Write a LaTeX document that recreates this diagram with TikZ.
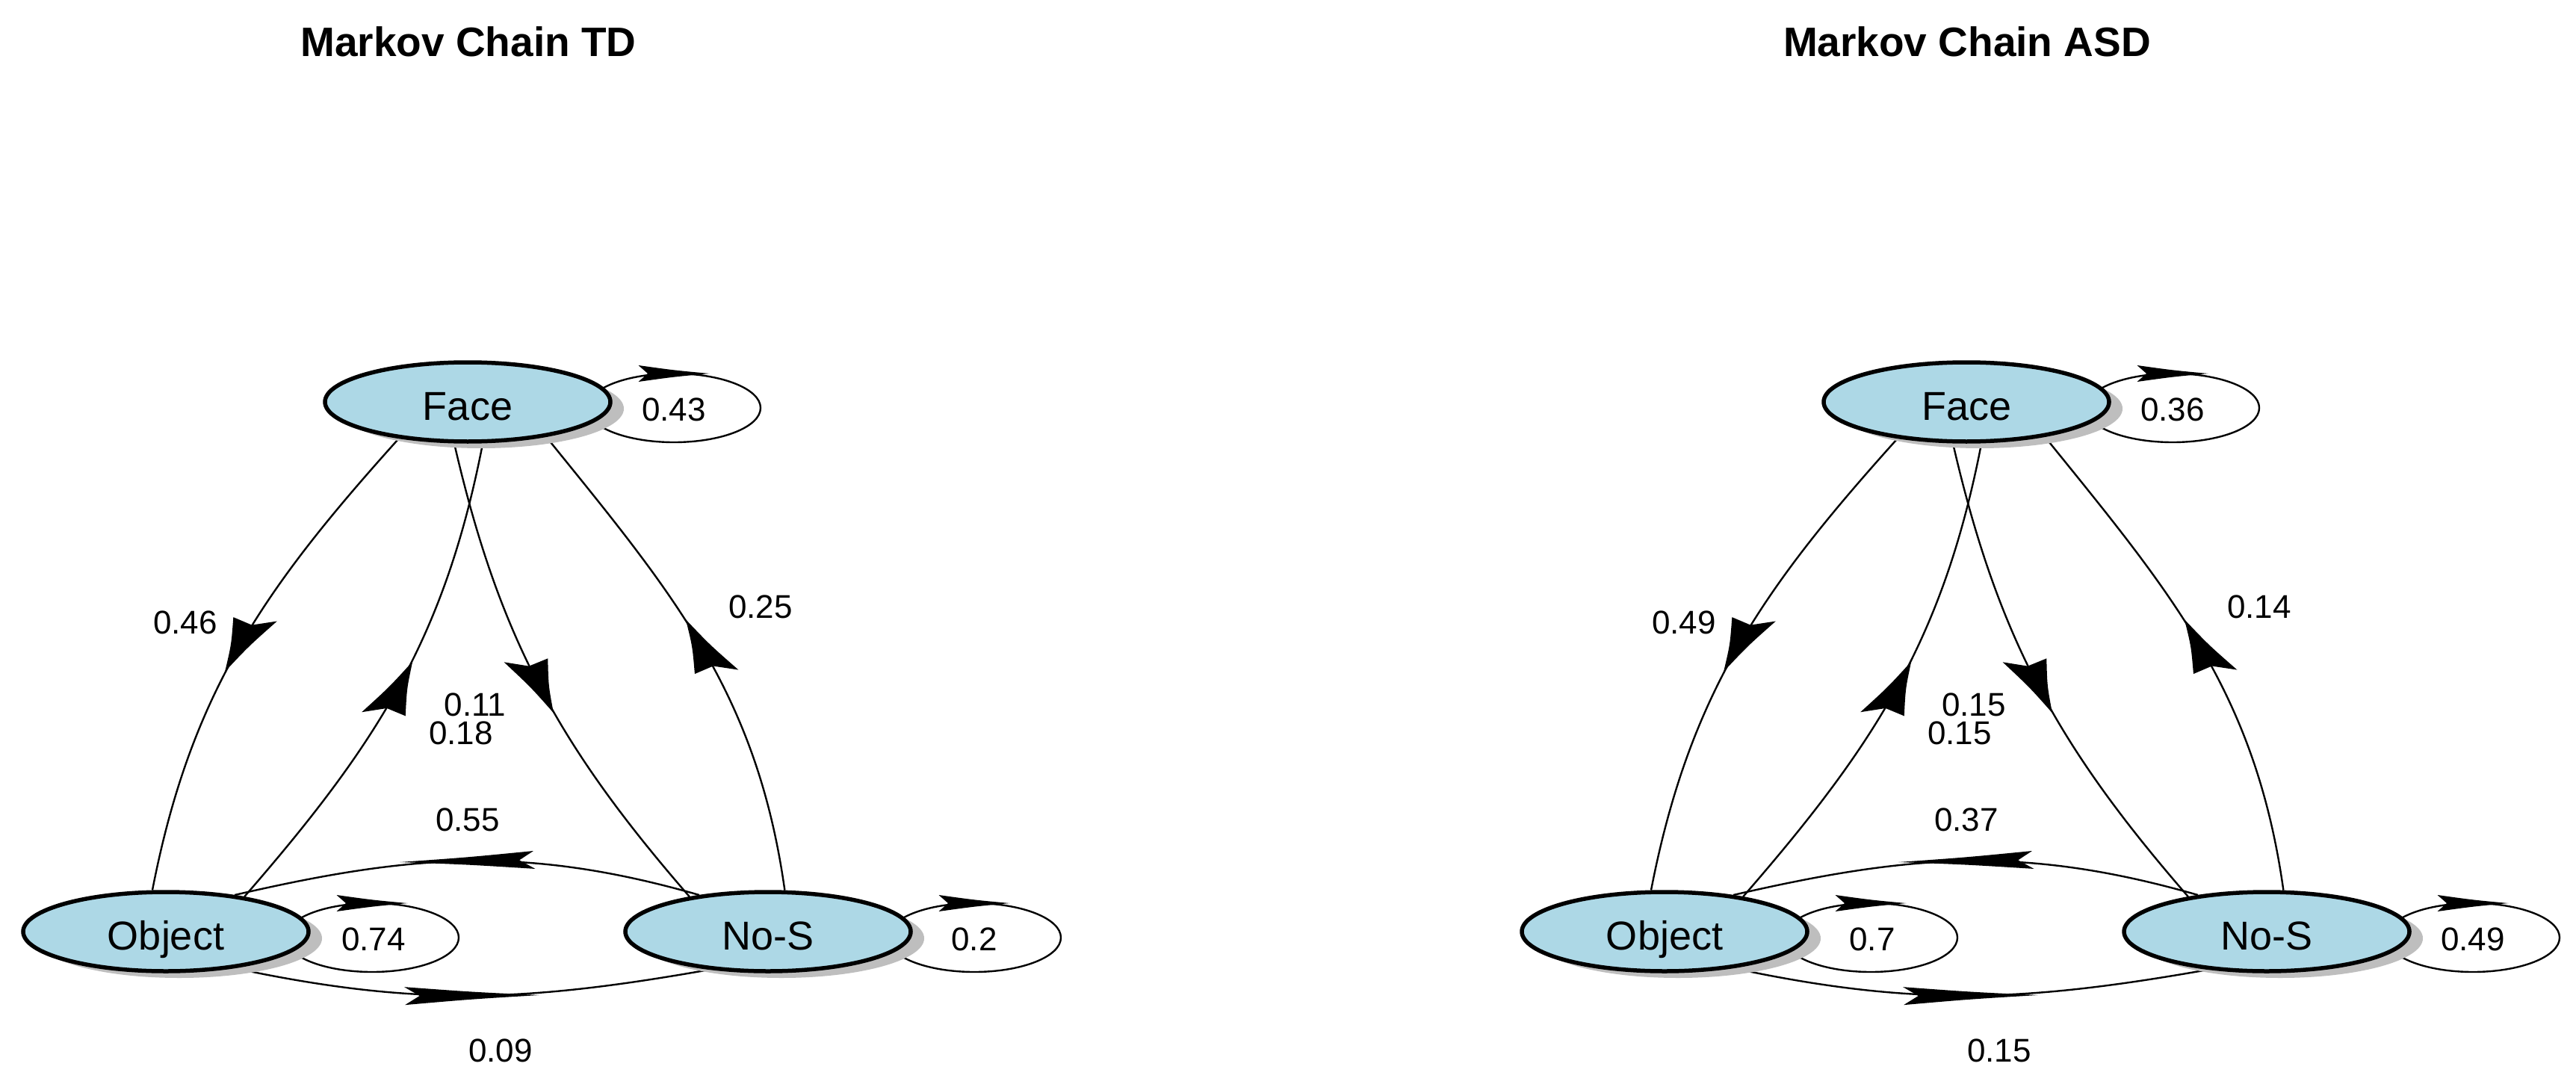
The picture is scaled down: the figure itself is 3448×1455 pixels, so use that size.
\documentclass[tikz,border=0pt]{standalone}
\usepackage{fontspec}
\setmainfont{Liberation Sans}
\usetikzlibrary{decorations.markings,shadows,shapes.geometric}
\definecolor{nodeblue}{RGB}{173,216,230}
\definecolor{shadowgray}{RGB}{190,190,190}
\pgfdeclarelayer{background}
\pgfsetlayers{background,main}
\newcommand{\kx}{2.5}
% arrow head drawn in "user space" (x stretched by \kx), centred on the mark
\newcommand{\anisohead}[3]{%
  \pgfgettransformentries{\AHa}{\AHb}{\AHc}{\AHd}{\AHe}{\AHf}%
  \pgfmathsetmacro{\AHang}{atan2(\AHb,\AHa/\kx)}%
  \pgftransformresetnontranslations
  \pgftransformxscale{\kx}%
  \pgftransformrotate{\AHang}%
  \fill (#1/2,0) .. controls (0,#2*0.2) .. (-#1/2,#2/2)
     -- (-#1/2+#3,0) -- (-#1/2,-#2/2)
     .. controls (0,-#2*0.2) .. (#1/2,0) -- cycle;
}
\tikzset{
  state/.style={ellipse, draw, line width=5.5pt, fill=nodeblue,
    minimum width=382pt, minimum height=106pt, inner sep=0pt,
    font=\fontsize{54}{60}\selectfont, text height=48pt, text depth=0pt,
    drop shadow={shadow xshift=18pt, shadow yshift=-9pt, fill=shadowgray, opacity=1, draw=none}},
  trans/.style={line width=2.4pt, postaction={decorate, decoration={markings,
    mark=at position 0.5 with {\anisohead{72}{24}{8}}}}},
  selfloop/.style={line width=2.4pt, postaction={decorate, decoration={markings,
    mark=at position 0.25 with {\anisohead{38}{22}{5}}}}},
  prob/.style={font=\fontsize{44}{50}\selectfont, inner sep=0pt, text height=31.5pt, text depth=0pt},
  chaintitle/.style={font=\bfseries\fontsize{55}{62}\selectfont, inner sep=0pt, text height=39.4pt, text depth=0pt},
}
% #1 loop Face, #2 loop Object, #3 loop No-S, #4 F->O, #5 O->F, #6 F->N, #7 N->F, #8 N->O, #9 O->N
\newcommand{\markovchain}[9]{%
  \node[state] (F) at (626,-538) {Face};
  \node[state] (O) at (222,-1247) {Object};
  \node[state] (N) at (1028,-1247) {No-S};
  \begin{pgfonlayer}{background}
    \draw[selfloop] ([shift={(160,-8)}]F.center) arc[start angle=180, end angle=-180, x radius=116, y radius=46];
    \draw[selfloop] ([shift={(160,-8)}]O.center) arc[start angle=180, end angle=-180, x radius=116, y radius=46];
    \draw[selfloop] ([shift={(160,-8)}]N.center) arc[start angle=180, end angle=-180, x radius=116, y radius=46];
    \draw[trans] (F.208) to[out=228,in=79] (O.108);
    \draw[trans] (O.24) to[out=49,in=259] (F.290);
    \draw[trans] (F.252) to[out=283,in=131] (N.156);
    \draw[trans] (N.68) to[out=98,in=309] (F.336);
    \draw[trans] (N.152) to[out=164,in=13] (O.28);
    \draw[trans] (O.332) to[out=348,in=190] (N.213);
  \end{pgfonlayer}
  \node[prob] (pF) at ([shift={(276,-10)}]F.center) {#1};
  \node[prob] (pO) at ([shift={(278,-10)}]O.center) {#2};
  \node[prob] (pN) at ([shift={(276,-10)}]N.center) {#3};
  \node[prob] (pFO) at (248,-833) {#4};
  \node[prob] (pOF) at (617,-981) {#5};
  \node[prob] (pFN) at (636,-943) {#6};
  \node[prob] (pNF) at (1018,-812) {#7};
  \node[prob] (pNO) at (626,-1097) {#8};
  \node[prob] (pON) at (670,-1406) {#9};
}
\begin{document}
\begin{tikzpicture}[x=1pt,y=1pt]
  \useasboundingbox (0,0) rectangle (3448,-1455);
  \begin{pgfonlayer}{background}
    \fill[white] (0,0) rectangle (3448,-1455);
  \end{pgfonlayer}
  \begin{scope}[name prefix=L-]
    \node[chaintitle] (T) at (627,-56) {Markov Chain TD};
    \markovchain{0.43}{0.74}{0.2}{0.46}{0.18}{0.11}{0.25}{0.55}{0.09}
  \end{scope}
  \begin{scope}[xshift=2006pt, name prefix=R-]
    \node[chaintitle] (T) at (627,-56) {Markov Chain ASD};
    \markovchain{0.36}{0.7}{0.49}{0.49}{0.15}{0.15}{0.14}{0.37}{0.15}
  \end{scope}
\end{tikzpicture}
\end{document}
